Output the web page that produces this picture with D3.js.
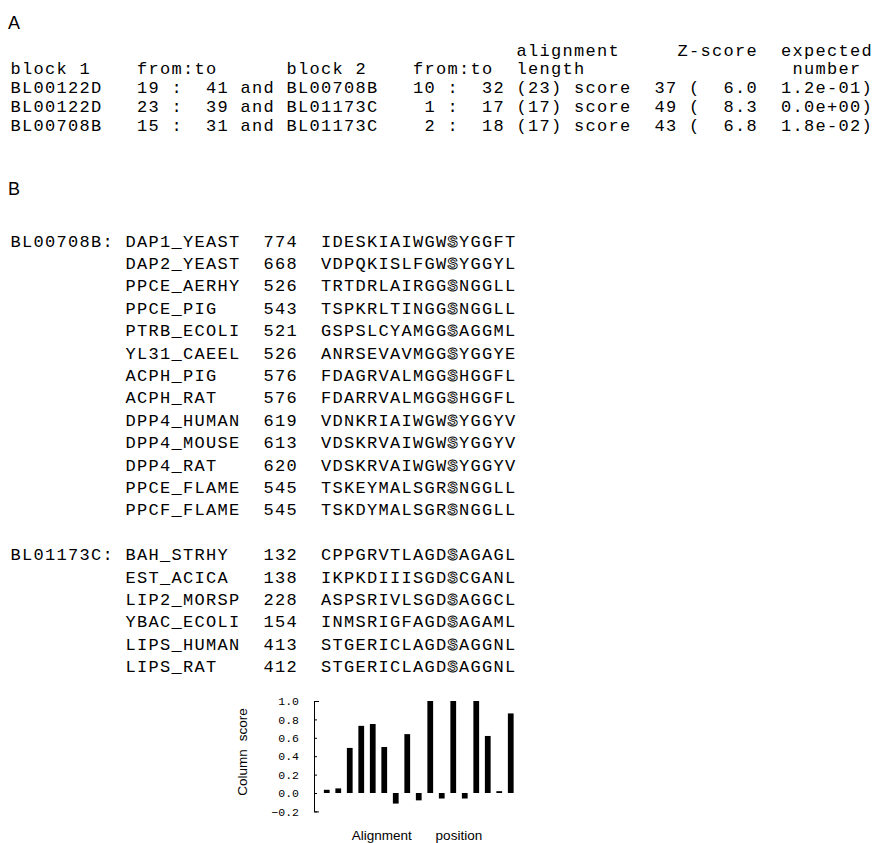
<!DOCTYPE html>
<html>
<head>
<meta charset="utf-8">
<script src="https://cdn.jsdelivr.net/npm/d3@7"></script>
<style>
  body { margin: 0; background: #fff; }
  .mono { font-family: "Courier New", "Liberation Mono", monospace; font-size: 17px; letter-spacing: 1.3px; }
  .sans { font-family: Arial, "Liberation Sans", sans-serif; }
</style>
</head>
<body>
<script>
var width = 877;
var height = 843;

// A: pairwise block alignments
var block1 = ["BL00122D", "BL00122D", "BL00708B"];
var from1 = [19, 23, 15];
var to1 = [41, 39, 31];
var block2 = ["BL00708B", "BL01173C", "BL01173C"];
var from2 = [10, 1, 2];
var to2 = [32, 17, 18];
var alignLength = [23, 17, 17];
var scores = [37, 49, 43];
var zScores = [6.0, 8.3, 6.8];
var expectedNum = ["1.2e-01", "0.0e+00", "1.8e-02"];
var headerTop = ["alignment", "Z-score", "expected"];
var headerBottom = ["block 1", "from:to", "block 2", "from:to", "length", "number"];

// B: aligned segments of the two blocks
var blockNames = ["BL00708B:", "BL01173C:"];
var seqNames = [
  ["DAP1_YEAST", "DAP2_YEAST", "PPCE_AERHY", "PPCE_PIG", "PTRB_ECOLI", "YL31_CAEEL", "ACPH_PIG",
   "ACPH_RAT", "DPP4_HUMAN", "DPP4_MOUSE", "DPP4_RAT", "PPCE_FLAME", "PPCF_FLAME"],
  ["BAH_STRHY", "EST_ACICA", "LIP2_MORSP", "YBAC_ECOLI", "LIPS_HUMAN", "LIPS_RAT"]
];
var seqStarts = [
  [774, 668, 526, 543, 521, 526, 576, 576, 619, 613, 620, 545, 545],
  [132, 138, 228, 154, 413, 412]
];
var sequences = [
  ["IDESKIAIWGWSYGGFT", "VDPQKISLFGWSYGGYL", "TRTDRLAIRGGSNGGLL", "TSPKRLTINGGSNGGLL",
   "GSPSLCYAMGGSAGGML", "ANRSEVAVMGGSYGGYE", "FDAGRVALMGGSHGGFL", "FDARRVALMGGSHGGFL",
   "VDNKRIAIWGWSYGGYV", "VDSKRVAIWGWSYGGYV", "VDSKRVAIWGWSYGGYV", "TSKEYMALSGRSNGGLL",
   "TSKDYMALSGRSNGGLL"],
  ["CPPGRVTLAGDSAGAGL", "IKPKDIIISGDSCGANL", "ASPSRIVLSGDSAGGCL", "INMSRIGFAGDSAGAML",
   "STGERICLAGDSAGGNL", "STGERICLAGDSAGGNL"]
];
var siteIndex = 11; // active-site serine, drawn outlined

// column score for each alignment position
var positions = d3.range(1, 18);
var columnScores = [0.035, 0.05, 0.49, 0.73, 0.75, 0.50, -0.115, 0.64, -0.08, 1.0,
                    -0.06, 1.0, -0.06, 1.0, 0.62, 0.02, 0.865];
var scoreTicks = [1.0, 0.8, 0.6, 0.4, 0.2, 0.0, -0.2];

var svg = d3.select("body").append("svg").attr("width", width).attr("height", height);

// character grid of the monospaced listing
var col = d3.scaleLinear().domain([0, 1]).range([10.5, 22]);
var pad = function(v, n) { return String(v).padStart(n); };
var at = function(s, c) { return s.padEnd(c); };

svg.append("text").attr("class", "sans").attr("x", 8).attr("y", 29)
  .attr("font-size", 18).text("A");

var rowA = d3.scaleLinear().domain([0, 1]).range([55.6, 74.4]);

var topLine = at(at(at("", 44) + headerTop[0], 58) + headerTop[1], 67) + headerTop[2];
var bottomLine = at(at(at(at(at(headerBottom[0], 11) + headerBottom[1], 24) + headerBottom[2], 35)
  + headerBottom[3], 44) + headerBottom[4], 68) + headerBottom[5];

var linesA = [topLine, bottomLine].concat(block1.map(function(b, i) {
  return b + "   " + pad(from1[i], 2) + " : " + pad(to1[i], 3) + " and " + block2[i] + "   "
    + pad(from2[i], 2) + " : " + pad(to2[i], 3) + " (" + alignLength[i] + ") score  " + scores[i]
    + " (" + pad(zScores[i].toFixed(1), 5) + "  " + expectedNum[i] + ")";
}));

svg.selectAll("text.rowA").data(linesA).enter().append("text")
  .attr("class", "rowA mono")
  .attr("xml:space", "preserve")
  .attr("x", col(0))
  .attr("y", function(d, i) { return rowA(i); })
  .text(function(d) { return d; });

// B
svg.append("text").attr("class", "sans").attr("x", 8).attr("y", 195)
  .attr("font-size", 18).text("B");

var rowB = d3.scaleLinear().domain([0, 1]).range([246.6, 269]);
var rowsB = [];
seqNames.forEach(function(names, b) {
  var offset = b === 0 ? 0 : seqNames[0].length + 1;
  names.forEach(function(n, j) {
    rowsB.push({
      row: offset + j,
      lead: at(at(j === 0 ? blockNames[b] : "", 10) + n, 22) + at(String(seqStarts[b][j]), 5),
      seq: sequences[b][j]
    });
  });
});

var tB = svg.selectAll("text.rowB").data(rowsB).enter().append("text")
  .attr("class", "rowB mono")
  .attr("xml:space", "preserve")
  .attr("x", col(0))
  .attr("y", function(d) { return rowB(d.row); });
tB.append("tspan").text(function(d) { return d.lead + d.seq.slice(0, siteIndex); });
tB.append("tspan").attr("fill", "#fff").attr("stroke", "#000").attr("stroke-width", 0.9)
  .attr("font-weight", "bold")
  .text(function(d) { return d.seq[siteIndex]; });
tB.append("tspan").text(function(d) { return d.seq.slice(siteIndex + 1); });

// column score bars
var x = d3.scaleBand().domain(positions).range([col(27), col(44)])
  .paddingInner(0.5).paddingOuter(0.25);
var y = d3.scaleLinear().domain([-0.2, 1.0]).range([811.4, 701]);

var axis = d3.axisLeft(y).tickValues(scoreTicks).tickFormat(d3.format(".1f"))
  .tickSizeInner(-3).tickSizeOuter(-5).tickPadding(15);

var gAxis = svg.append("g").attr("transform", "translate(314,0)").call(axis);
gAxis.selectAll("text").attr("font-family", "'Courier New', 'Liberation Mono', monospace")
  .attr("font-size", 11.5).attr("fill", "#000");
gAxis.selectAll("path,line").attr("stroke", "#000");

svg.selectAll("rect.bar").data(columnScores).enter().append("rect")
  .attr("class", "bar")
  .attr("x", function(d, i) { return x(positions[i]); })
  .attr("width", x.bandwidth())
  .attr("y", function(d) { return y(Math.max(0, d)); })
  .attr("height", function(d) { return Math.abs(y(d) - y(0)); })
  .attr("fill", "#000");

svg.append("text").attr("class", "sans")
  .attr("transform", "translate(247,752) rotate(-90)")
  .attr("text-anchor", "middle").attr("font-size", 13.5).attr("word-spacing", 4)
  .text("Column score");

svg.append("text").attr("class", "sans")
  .attr("x", 417).attr("y", 840)
  .attr("text-anchor", "middle").attr("font-size", 13.5).attr("word-spacing", 20)
  .text("Alignment position");
</script>
</body>
</html>
